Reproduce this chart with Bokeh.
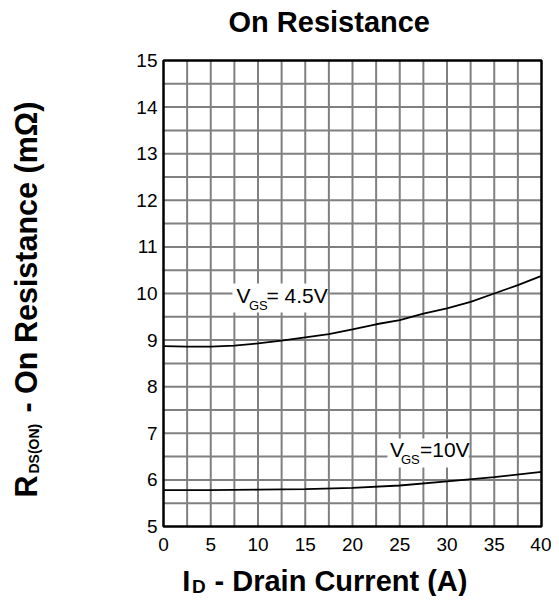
import math
import numpy as np
from bokeh.plotting import figure
from bokeh.models import Range1d, FixedTicker, Label
from bokeh.embed import file_html
from bokeh.resources import INLINE

# ---- data ----
x_vgs45 = [0, 2.5, 5, 7.5, 10, 12.5, 15, 17.5, 20, 22.5, 25, 27.5, 30, 32.5, 35, 37.5, 40]
r_vgs45 = [8.87, 8.86, 8.86, 8.88, 8.93, 8.99, 9.06, 9.13, 9.23, 9.34, 9.43, 9.57, 9.68, 9.82, 10.0, 10.18, 10.38]
x_vgs10 = [0, 5, 10, 15, 20, 25, 30, 35, 40]
r_vgs10 = [5.78, 5.78, 5.79, 5.80, 5.83, 5.88, 5.97, 6.06, 6.17]
x_ticks = [0, 5, 10, 15, 20, 25, 30, 35, 40]
y_ticks = [5, 6, 7, 8, 9, 10, 11, 12, 13, 14, 15]

FONT = "Liberation Sans"

# ---- layout (pixels) ----
W, H = 551, 596
FL, FR, FT, FB = 163, 541, 60, 526          # plot box edges on the canvas
x0, x1 = x_ticks[0], x_ticks[-1]
y0, y1 = y_ticks[0], y_ticks[-1]
sx = (FR - FL) / (x1 - x0)
sy = (FB - FT) / (y1 - y0)
xr = Range1d(x0 - FL / sx, x1 + (W - FR) / sx)
yr = Range1d(y0 - (H - FB) / sy, y1 + FT / sy)

p = figure(width=W, height=H, output_backend="svg", toolbar_location=None,
           x_range=xr, y_range=yr,
           min_border_left=0, min_border_right=0, min_border_top=0, min_border_bottom=0)
p.background_fill_color = "white"
p.border_fill_color = "white"
p.outline_line_color = None
p.xgrid.visible = False
p.ygrid.visible = False

# axes positioned at the plot box edges
xa, ya = p.xaxis[0], p.yaxis[0]
xa.fixed_location = y0
ya.fixed_location = x0
xa.bounds = (x0, x1)
ya.bounds = (y0, y1)
for ax in (xa, ya):
    ax.axis_line_color = None
    ax.major_tick_line_color = None
    ax.minor_tick_line_color = None
    ax.major_tick_out = 0
    ax.major_tick_in = 0
    ax.major_label_text_font = FONT
    ax.major_label_text_font_size = "19px"
    ax.major_label_text_color = "black"
xa.ticker = FixedTicker(ticks=x_ticks)
ya.ticker = FixedTicker(ticks=y_ticks)
xa.major_label_standoff = 11
ya.major_label_standoff = 6

# grid lines (every 2.5 A and 0.5 mOhm)
gx = np.arange(x0 + 2.5, x1, 2.5)
gy = np.arange(y0 + 0.5, y1, 0.5)
p.segment(x0=gx, y0=[y0] * len(gx), x1=gx, y1=[y1] * len(gx), line_color="#808080", line_width=2)
p.segment(x0=[x0] * len(gy), y0=gy, x1=[x1] * len(gy), y1=gy, line_color="#808080", line_width=2)

# white label boxes
p.quad(left=[7.3, 23.7], right=[17.35, 32.3], top=[10.215, 6.888], bottom=[9.592, 6.266],
       fill_color="white", line_color=None)

# curves
p.line(x_vgs45, r_vgs45, line_color="black", line_width=1.8)
p.line(x_vgs10, r_vgs10, line_color="black", line_width=1.8)

# plot box
p.quad(left=[x0], right=[x1], bottom=[y0], top=[y1], fill_color=None,
       line_color="black", line_width=2.5)

def lab(x, y, text, size, bold=False, angle=0.0):
    p.add_layout(Label(x=x, y=y, text=text, text_font=FONT, text_font_size=size,
                       text_font_style="bold" if bold else "normal", text_color="black",
                       text_align="left", text_baseline="alphabetic", angle=angle))

# curve labels
lab(7.725, 9.964, "V", "21px")
lab(9.048, 9.736, "GS", "13px")
lab(10.9, 9.964, "= 4.5V", "21px")
lab(23.97, 6.659, "V", "21px")
lab(25.13, 6.431, "GS", "13px")
lab(27.14, 6.659, "=10V", "21px")

# title
lab(6.88, 15.833, "On Resistance", "29px", bold=True)

# x axis label
lab(1.98, 3.841, "I", "29px", bold=True)
lab(3.02, 3.712, "D", "19px", bold=True)
lab(5.4, 3.841, "- Drain Current (A)", "29px", bold=True)

# y axis label (rotated)
lab(-14.508, 5.622, "R", "30.5px", bold=True, angle=math.pi / 2)
lab(-13.75, 6.137, "DS(ON)", "14px", bold=True, angle=math.pi / 2)
lab(-14.508, 7.446, "- On Resistance (m\u03a9)", "30.5px", bold=True, angle=math.pi / 2)

open("out.html", "w").write(file_html(p, INLINE))
